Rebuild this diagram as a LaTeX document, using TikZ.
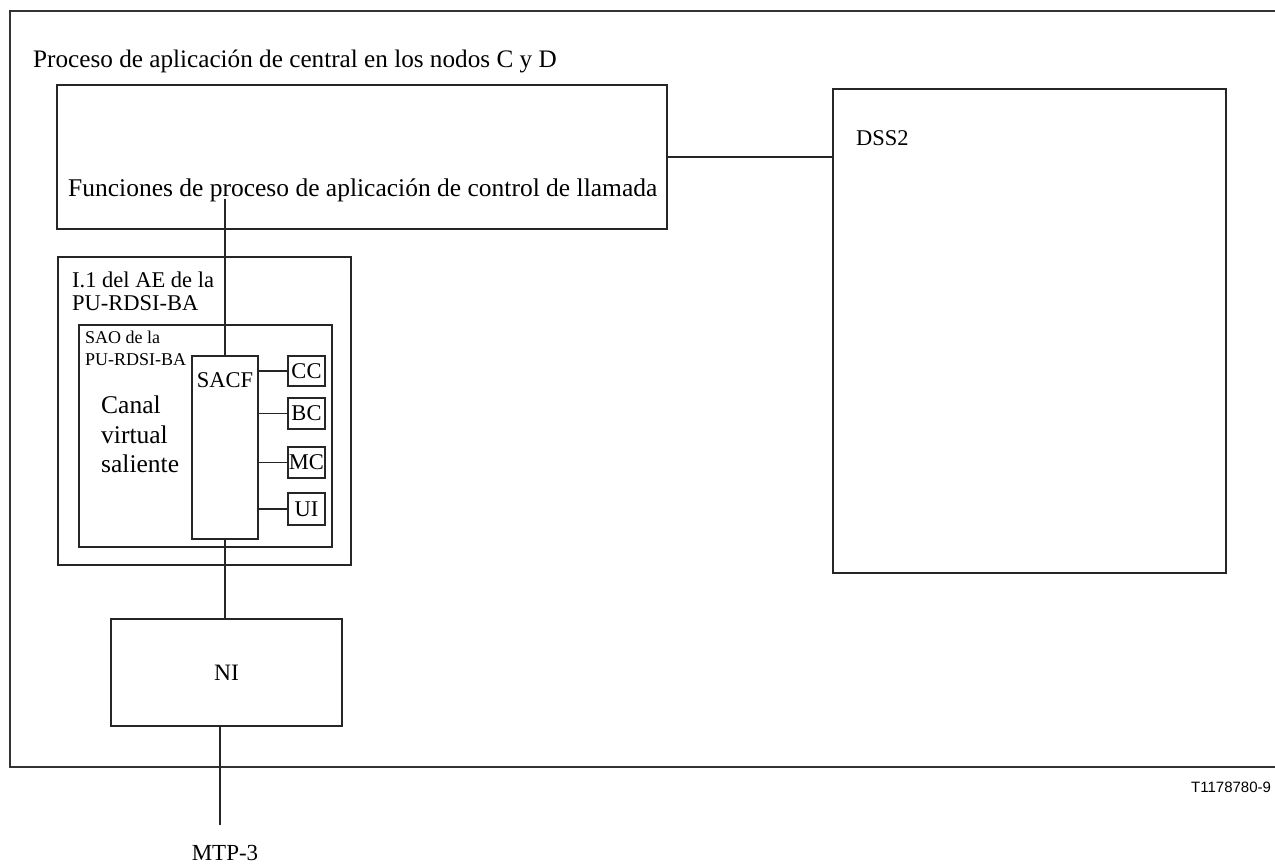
\documentclass[tikz,border=0pt]{standalone}
\usepackage{fontspec}
\setmainfont{Liberation Serif}
\newfontfamily\arialf{Liberation Sans}
\begin{document}
\begin{tikzpicture}[x=1pt,y=-1pt,
  box/.style={draw=black!85, line width=1.3pt, inner sep=0pt, rectangle},
  conn/.style={draw=black!85, line width=1.3pt},
  frameline/.style={draw=black!80, line width=1.6pt},
  txt/.style={inner sep=0pt, anchor=base west},
  big/.style={font=\fontsize{25.5}{30}\selectfont},
  mid/.style={font=\fontsize{22.5}{27}\selectfont},
  small/.style={font=\fontsize{18}{21}\selectfont}]
\useasboundingbox (0,0) rectangle (1275,865);

% outer frame (right edge lies outside the picture)
\draw[frameline] (1300,11) -- (10,11) -- (10,767) -- (1300,767);

\node[txt,font=\fontsize{25.2}{30}\selectfont] (title) at (33,67) {Proceso de aplicación de central en los nodos C y D};

% main box
\node[box, minimum width=610pt, minimum height=144pt] (main) at (362,157) {};
\node[txt,big] (mainT) at (68,196) {Funciones de proceso de aplicación de control de llamada};

% DSS2 box
\node[box, minimum width=393pt, minimum height=484pt] (dss) at (1029.5,331) {};
\node[txt,mid] (dssT) at (856,145) {DSS2};

% AE box
\node[box, minimum width=293pt, minimum height=308pt] (ae) at (204.5,411) {};
\node[txt,mid] (aeT1) at (72,287) {I.1 del AE de la};
\node[txt,mid] (aeT2) at (72,310) {PU-RDSI-BA};

% SAO box
\node[box, minimum width=253pt, minimum height=222pt] (sao) at (205.5,436) {};
\node[txt,small] (saoT1) at (85,343) {SAO de la};
\node[txt,small] (saoT2) at (85,365) {PU-RDSI-BA};

\node[txt,big] (cv1) at (101,413) {Canal};
\node[txt,big] (cv2) at (101,443) {virtual};
\node[txt,big] (cv3) at (101,472) {saliente};

% SACF
\node[box, minimum width=66pt, minimum height=183pt] (sacf) at (225,447.5) {};
\node[inner sep=0pt, anchor=base, mid] (sacfT) at (225,387) {SACF};

% small boxes
\node[box, mid, minimum width=37pt, minimum height=30pt] (cc) at (306.5,371) {CC};
\node[box, mid, minimum width=37pt, minimum height=31pt] (bc) at (306.5,413.5) {BC};
\node[box, mid, minimum width=37pt, minimum height=31pt] (mc) at (306.5,462.5) {MC};
\node[box, mid, minimum width=37pt, minimum height=32pt] (ui) at (306.5,509) {UI};

% NI
\node[box, font=\fontsize{23.5}{28}\selectfont, minimum width=231pt, minimum height=107pt] (ni) at (226.5,672.5) {NI};

\node[inner sep=0pt, anchor=base, font=\fontsize{23}{27}\selectfont] (mtp) at (225,860) {MTP-3};
\node[txt, font=\arialf\fontsize{15}{18}\selectfont] (ref) at (1191,792) {T1178780-9};

% connectors
\coordinate (ms) at (226,199);
\coordinate (mb) at (220,825);
\draw[conn] (main.east) -- (main.east -| dss.west);
\draw[conn] (sacf.north |- ms) -- (sacf.north);
\draw[conn] (cc.west -| sacf.east) -- (cc.west);
\draw[conn] (bc.west -| sacf.east) -- (bc.west);
\draw[conn] (mc.west -| sacf.east) -- (mc.west);
\draw[conn] (ui.west -| sacf.east) -- (ui.west);
\draw[conn] (sacf.south) -- (sacf.south |- ni.north);
\draw[conn] (ni.south -| mb) -- (mb);
\end{tikzpicture}
\end{document}
